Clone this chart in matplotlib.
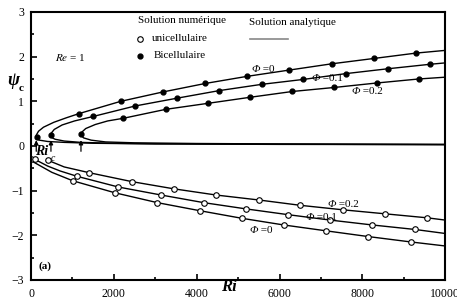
import numpy as np
import matplotlib.pyplot as plt

plt.rcParams['font.family'] = ['Liberation Serif', 'DejaVu Serif']
plt.rcParams['mathtext.fontset'] = 'stix'

# numerical points, bicellular (upper) branch
ri_b0 = [138, 1159, 2167, 3188, 4210, 5225, 6240, 7263, 8285, 9300]
psi_b0 = [0.20, 0.725, 1.00, 1.21, 1.40, 1.56, 1.70, 1.84, 1.96, 2.08]
ri_b1 = [483, 1498, 2512, 3527, 4548, 5572, 6577, 7601, 8630, 9645]
psi_b1 = [0.25, 0.66, 0.895, 1.07, 1.24, 1.38, 1.49, 1.62, 1.73, 1.83]
ri_b2 = [1208, 2230, 3253, 4275, 5290, 6312, 7326, 8350, 9365]
psi_b2 = [0.27, 0.62, 0.82, 0.955, 1.09, 1.22, 1.31, 1.41, 1.50]

# numerical points, unicellular (lower) branch
ri_u0 = [0, 1007, 2029, 3051, 4074, 5089, 6104, 7118, 8148, 9172]
psi_u0 = [-0.30, -0.78, -1.05, -1.27, -1.45, -1.62, -1.77, -1.90, -2.03, -2.15]
ri_u1 = [89, 1111, 2109, 3147, 4171, 5193, 6215, 7222, 8244, 9268]
psi_u1 = [-0.30, -0.68, -0.92, -1.10, -1.27, -1.41, -1.54, -1.66, -1.77, -1.87]
ri_u2 = [403, 1408, 2440, 3446, 4476, 5500, 6505, 7529, 8551, 9572]
psi_u2 = [-0.32, -0.60, -0.80, -0.96, -1.10, -1.21, -1.33, -1.43, -1.52, -1.61]

# analytic curves (C-shaped bicellular branches)
ri_a0 = [10000, 6000, 3000, 1500, 800, 400, 200, 140, 122, 130, 180, 300, 550, 850,
         1159, 2167, 3188, 4210, 5225, 6240, 7263, 8285, 9300, 10000]
psi_a0 = [0.03, 0.035, 0.045, 0.06, 0.08, 0.10, 0.13, 0.16, 0.20, 0.25, 0.33, 0.42, 0.53, 0.63,
          0.725, 1.00, 1.21, 1.40, 1.56, 1.70, 1.84, 1.96, 2.08, 2.14]
ri_a1 = [10000, 6000, 3000, 2000, 1200, 800, 580, 495, 470, 490, 560, 750, 1050,
         1498, 2512, 3527, 4548, 5572, 6577, 7601, 8630, 9645, 10000]
psi_a1 = [0.03, 0.04, 0.05, 0.06, 0.08, 0.11, 0.15, 0.19, 0.24, 0.29, 0.37, 0.47, 0.56,
          0.66, 0.895, 1.07, 1.24, 1.38, 1.49, 1.62, 1.73, 1.83, 1.86]
ri_a2 = [10000, 6000, 4000, 2500, 1800, 1450, 1270, 1200, 1215, 1320, 1550, 1850,
         2230, 3253, 4275, 5290, 6312, 7326, 8350, 9365, 10000]
psi_a2 = [0.035, 0.045, 0.055, 0.07, 0.09, 0.13, 0.18, 0.24, 0.30, 0.39, 0.48, 0.56,
          0.62, 0.82, 0.955, 1.09, 1.22, 1.31, 1.41, 1.50, 1.54]

# analytic unicellular curves
ri_l0 = [0, 250, 500, 1007, 2029, 3051, 4074, 5089, 6104, 7118, 8148, 9172, 10000]
psi_l0 = [-0.33, -0.46, -0.59, -0.78, -1.05, -1.27, -1.45, -1.62, -1.77, -1.90, -2.03, -2.15, -2.24]
ri_l1 = [89, 400, 700, 1111, 2109, 3147, 4171, 5193, 6215, 7222, 8244, 9268, 10000]
psi_l1 = [-0.30, -0.45, -0.56, -0.68, -0.92, -1.10, -1.27, -1.41, -1.54, -1.66, -1.77, -1.87, -1.96]
ri_l2 = [403, 800, 1408, 2440, 3446, 4476, 5500, 6505, 7529, 8551, 9572, 10000]
psi_l2 = [-0.32, -0.47, -0.60, -0.80, -0.96, -1.10, -1.21, -1.33, -1.43, -1.52, -1.61, -1.66]

# critical Richardson numbers (arrows)
ri_c = [125, 480, 1205]

# phi labels: (Ri, psi, text)
phi_labels = [(5331, 1.71, '0'), (6780, 1.51, '0.1'), (7746, 1.21, '0.2'),
              (7150, -1.31, '0.2'), (6618, -1.61, '0.1'), (5266, -1.89, '0')]

fig = plt.figure(figsize=(4.57, 3.0), dpi=100)
ax = fig.add_axes([0.068, 0.067, 0.906, 0.893])

for x, y in [(ri_a0, psi_a0), (ri_a1, psi_a1), (ri_a2, psi_a2),
             (ri_l0, psi_l0), (ri_l1, psi_l1), (ri_l2, psi_l2)]:
    ax.plot(x, y, color='black', lw=1.0)

for x, y in [(ri_b0, psi_b0), (ri_b1, psi_b1), (ri_b2, psi_b2)]:
    ax.plot(x, y, 'o', color='black', ms=3.5, ls='none')
for x, y in [(ri_u0, psi_u0), (ri_u1, psi_u1), (ri_u2, psi_u2)]:
    ax.plot(x, y, 'o', mfc='white', mec='black', mew=0.8, ms=4, ls='none')

for r in ri_c:
    ax.annotate('', xy=(r, 0.13), xytext=(r, -0.12),
                arrowprops=dict(arrowstyle='-|>', color='black', lw=0.9,
                                mutation_scale=6, shrinkA=0, shrinkB=0))

ax.text(95, -0.12, 'Ri', fontsize=10, fontweight='bold', style='italic', va='center')
ax.text(470, -0.27, 'c', fontsize=7, style='italic', va='center')

for x, y, s in phi_labels:
    t = ax.text(x, y, 'Φ', fontsize=8, style='italic', va='center')
    ax.annotate(' =' + s, xy=(1, 0.5), xycoords=t, fontsize=8, va='center')

# legend drawn by hand
ax.text(0.258, 0.967, 'Solution numérique', transform=ax.transAxes, fontsize=8, va='center')
ax.plot([0.263], [0.901], 'o', mfc='white', mec='black', mew=0.8, ms=4, transform=ax.transAxes)
ax.text(0.292, 0.901, 'unicellulaire', transform=ax.transAxes, fontsize=8, va='center')
ax.plot([0.263], [0.836], 'o', color='black', ms=3.5, transform=ax.transAxes)
ax.text(0.295, 0.836, 'Bicellulaire', transform=ax.transAxes, fontsize=8, va='center')
ax.text(0.527, 0.959, 'Solution analytique', transform=ax.transAxes, fontsize=8, va='center')
ax.plot([0.529, 0.621], [0.899, 0.899], color='#888888', lw=1.2, transform=ax.transAxes)

ax.text(0.058, 0.832, r'$\mathit{Re}$ = 1', transform=ax.transAxes, fontsize=8, va='center')
ax.text(0.019, 0.051, '(a)', transform=ax.transAxes, fontsize=8, fontweight='bold', va='center')

fig.text(0.030, 0.733, 'ψ', fontsize=13, fontweight='bold', style='italic', ha='center', va='center')
fig.text(0.046, 0.705, 'c', fontsize=8, fontweight='bold', ha='center', va='center')
fig.text(0.501, 0.043, 'Ri', fontsize=12, fontweight='bold', style='italic', ha='center', va='center')

ax.set_xlim(0, 10000)
ax.set_ylim(-3, 3)
ax.set_xticks([0, 2000, 4000, 6000, 8000, 10000])
ax.set_xticks(np.arange(1000, 10000, 2000), minor=True)
ax.set_yticks([-3, -2, -1, 0, 1, 2, 3])
ax.set_yticks(np.arange(-2.5, 3, 1), minor=True)
ax.tick_params(which='both', direction='in', labelsize=8.5, width=1.2)
ax.tick_params(which='major', length=4)
ax.tick_params(which='minor', length=2.5)
ax.tick_params(axis='x', pad=6)
ax.tick_params(axis='y', pad=5)
for s in ax.spines.values():
    s.set_linewidth(1.5)

fig.savefig('out.png', dpi=100)
